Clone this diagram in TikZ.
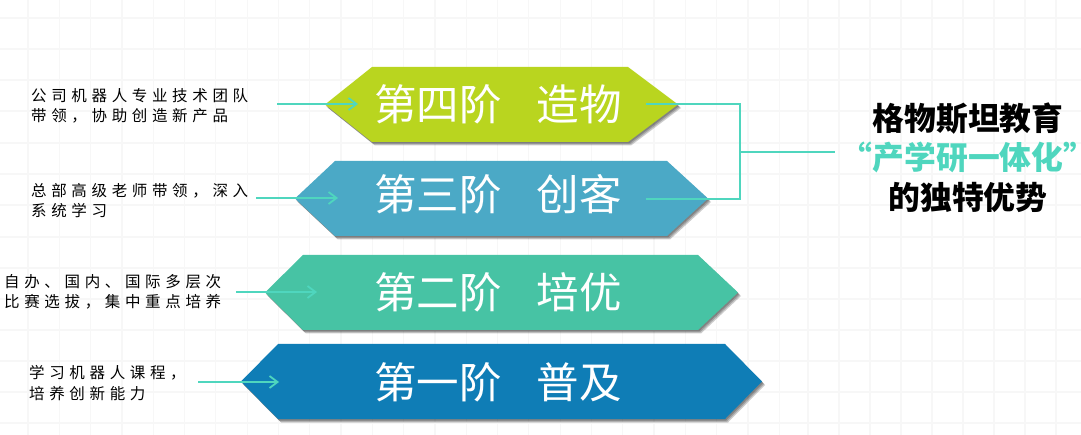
\documentclass[tikz,border=0pt]{standalone}
\usepackage{fontspec}
\setmainfont{Noto Sans CJK SC}
\usetikzlibrary{arrows.meta}
\definecolor{tealline}{HTML}{4FD6BE}
\definecolor{cfour}{HTML}{B9D51F}
\definecolor{cthree}{HTML}{4BA9C6}
\definecolor{ctwo}{HTML}{47C3A4}
\definecolor{cone}{HTML}{0F7DB6}
\tikzset{
  x=1pt,y=-1pt,
  stage/.style={fill=#1,draw=none},
  stageshadow/.style={fill=black,fill opacity=.2,draw=none},
  stagelabel/.style={text=white,font=\fontsize{42.5}{42.5}\selectfont,inner sep=0pt},
  note/.style={anchor=west,align=left,inner sep=0pt,font=\fontsize{15.5}{20.3}\selectfont\addfontfeature{LetterSpace=30},text=black},
  link/.style={draw=tealline,line width=2pt},
  arrowlink/.style={link,-{Straight Barb[length=8pt,width=12pt,line width=1.8pt]}},
  gridline/.style={draw=black!3,line width=1.2pt},
  title/.style={inner sep=0pt,font=\fontsize{31.8}{31.8}\selectfont\bfseries},
}
\newcommand{\hexshape}[7]{% left tip, left corner, right corner, right tip, mid y, dx, dy
  (#1+#6,#5+#7) -- (#2+#6,#5-37.5+#7) -- (#3+#6,#5-37.5+#7) -- (#4+#6,#5+#7) -- (#3+#6,#5+37.5+#7) -- (#2+#6,#5+37.5+#7) -- cycle
}
\newcommand{\stagehex}[6]{% left tip, left corner, right corner, right tip, mid y, colour
  \fill[stageshadow] \hexshape{#1}{#2}{#3}{#4}{#5}{1}{1.5};
  \fill[stageshadow] \hexshape{#1}{#2}{#3}{#4}{#5}{2}{2.5};
  \fill[stageshadow] \hexshape{#1}{#2}{#3}{#4}{#5}{3}{3.5};
  \path[stage=#6] \hexshape{#1}{#2}{#3}{#4}{#5}{0}{0};
}
\begin{document}
\begin{tikzpicture}
\useasboundingbox (0,0) rectangle (1081,435);
\fill[white] (0,0) rectangle (1081,435);
\foreach \gx in {28,59.3,90.6,121.9,153.2,184.5,215.8,247.1,278.4,309.7,341,372.3,403.6,434.9,466.2,497.5,528.8,560.1,591.4,622.7,654,685.3,716.6,747.9,779.2,808,839,870,901,932,963,994,1025,1056}
  \draw[gridline] (\gx,0) -- (\gx,435);
\foreach \gy in {18,49,80,111,143,174,205,237,268,299,330,361,392,423}
  \draw[gridline] (0,\gy) -- (1081,\gy);
\stagehex{325}{372}{628}{678}{104.5}{cfour}
\stagehex{295}{335}{667}{708}{198.5}{cthree}
\stagehex{265}{303}{698}{738}{292.5}{ctwo}
\stagehex{241}{278}{725}{762}{381.5}{cone}
\node[stagelabel] (t4) at (498,104) {第四阶\hspace{.82em}造物};
\node[stagelabel] (t3) at (498,194) {第三阶\hspace{.82em}创客};
\node[stagelabel] (t2) at (498,292) {第二阶\hspace{.82em}培优};
\node[stagelabel] (t1) at (498,382) {第一阶\hspace{.82em}普及};
\node[note] (n4) at (31,105.5) {公司机器人专业技术团队\\带领，协助创造新产品};
\node[note] (n3) at (31,200.5) {总部高级老师带领，深入\\系统学习};
\node[note] (n2) at (4,292) {自办、国内、国际多层次\\比赛选拔，集中重点培养};
\node[note] (n1) at (29,383) {学习机器人课程，\\培养创新能力};
\coordinate (a4s) at (277,104); \coordinate (a4e) at (358,104);
\coordinate (a3s) at (256,198); \coordinate (a3e) at (338,198);
\coordinate (a2s) at (236,292); \coordinate (a2e) at (317,292);
\coordinate (a1s) at (198,382); \coordinate (a1e) at (279,382);
\draw[arrowlink] (a4s) -- (a4e);
\draw[arrowlink] (a3s) -- (a3e);
\draw[arrowlink] (a2s) -- (a2e);
\draw[arrowlink] (a1s) -- (a1e);
\coordinate (b4) at (646,104); \coordinate (b3) at (646,199.5);
\coordinate (bj) at (740,152); \coordinate (be) at (835,152);
\draw[link] (b4) -- (bj |- b4) -- (bj |- b3) -- (b3);
\draw[link] (bj) -- (be);
\node[title,text=black] (h1) at (968,119) {格物斯坦教育};
\node[title,text=tealline] (h2) at (968,157) {\kern-.5em“产学研一体化”\kern-.5em};
\node[title,text=black] (h3) at (968,197) {的独特优势};
\end{tikzpicture}
\end{document}
